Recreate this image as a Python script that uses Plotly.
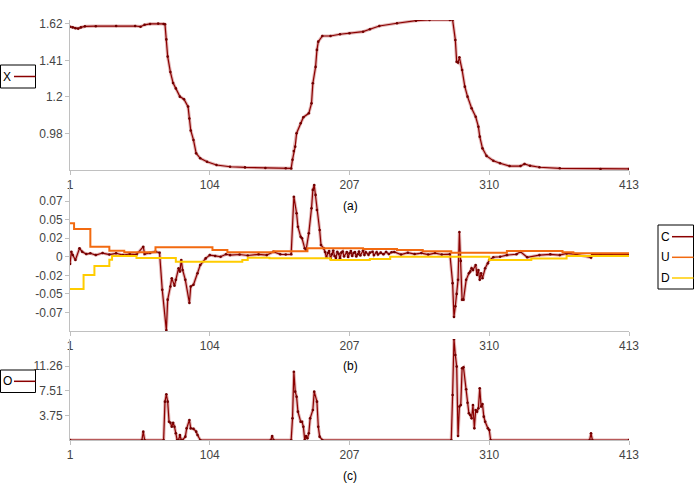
import plotly.graph_objects as go

# ---------------- data ----------------
x_ticks = [1, 104, 207, 310, 413]

X_idx = [1, 3, 5, 7, 9, 12, 20, 35, 49, 53, 56, 60, 66, 70, 71, 72, 73, 75, 77, 79, 82, 85, 88, 89, 90,
         92, 94, 97, 102, 109, 119, 130, 145, 160, 164, 165, 166, 167, 168, 171, 173, 177, 179, 180,
         182, 183, 184, 187, 193, 200, 207, 217, 222, 229, 242, 256, 266, 281, 283, 285, 286, 287, 288,
         290, 292, 294, 297, 300, 302, 303, 305, 308, 313, 318, 325, 333, 336, 340, 347, 362, 392, 413]
X_val = [1.604, 1.600, 1.595, 1.593, 1.600, 1.606, 1.607, 1.608, 1.608, 1.604, 1.615, 1.620, 1.622,
         1.620, 1.618, 1.53, 1.43, 1.34, 1.276, 1.245, 1.197, 1.182, 1.139, 1.07, 1.00,
         0.945, 0.867, 0.838, 0.818, 0.799, 0.789, 0.785, 0.782, 0.780, 0.779, 0.83, 0.88, 0.906,
         0.984, 1.042, 1.077, 1.10, 1.158, 1.275, 1.37, 1.469, 1.517, 1.55, 1.55, 1.56, 1.566, 1.575,
         1.589, 1.608, 1.624, 1.639, 1.643, 1.643, 1.643, 1.527, 1.40, 1.395, 1.426, 1.352, 1.255,
         1.197, 1.129, 1.08, 1.022, 0.964, 0.896, 0.852, 0.824, 0.809, 0.793, 0.793, 0.805, 0.795,
         0.786, 0.780, 0.776, 0.776]

C_idx = [1, 2, 3, 5, 8, 10, 13, 16, 20, 25, 30, 35, 40, 45, 50, 55, 56, 60, 64, 67, 69, 72, 73, 75,
         76, 78, 79, 81, 82, 83, 84, 86, 89, 90, 92, 95, 97, 101, 104, 108, 112, 116, 119, 126, 132,
         140, 146, 151, 156, 160, 164, 166, 168, 169, 171, 172, 174, 175, 177, 179, 180, 181, 182,
         183, 185, 186, 188, 189, 190, 191, 192, 193, 194, 195, 196, 197, 198, 199, 200, 201, 202,
         203, 205, 206, 207, 208, 209, 210, 211, 212, 213, 214, 215, 217, 218, 219, 221, 222, 224,
         225, 227, 228, 230, 232, 234, 236, 238, 240, 245, 250, 255, 260, 265, 270, 275, 281, 283,
         284, 285, 286, 287, 288, 289, 290, 291, 293, 295, 296, 297, 298, 300, 301, 302, 303, 304,
         305, 307, 309, 310, 313, 318, 323, 330, 333, 338, 347, 355, 362, 367, 374, 385, 386, 392,
         400, 413]
C_val = [-0.0088, 0.0061, 0.0021, -0.0039, 0.0102, 0.0061, 0.0033, 0.0042, 0.0021, 0.0045, 0.0027,
         0.0042, 0.0021, 0.0033, 0.0027, 0.0122, 0.0033, 0.0045, 0.0061, 0.0049, -0.040, -0.089,
         -0.052, -0.036, -0.026, -0.035, -0.028, -0.014, -0.018, -0.004, -0.016, -0.028, -0.056,
         -0.036, -0.034, -0.020, -0.010, -0.002, 0.002, 0.001, 0.0, 0.003, 0.002, 0.0027, 0.0015,
         0.003, 0.002, 0.006, 0.003, 0.0027, 0.003, 0.0728, 0.0527, 0.0364, 0.0243, 0.0224, 0.0102,
         0.0082, 0.0284, 0.0587, 0.081, 0.087, 0.075, 0.0567, 0.0324, 0.0142, 0.0102,
         0.0058, -0.0009, 0.0045, 0.007, -0.002, 0.003, 0.0076, 0.001, -0.0015, 0.006, 0.0035,
         -0.0019, 0.005, 0.0064, 0.0003, 0.0058, -0.0003, 0.0042, 0.007, 0.0009, 0.0045, 0.0058,
         0.0003, 0.003, 0.0064, 0.0015, 0.0076, 0.002, 0.0055, 0.0025, 0.005, 0.0061, 0.002,
         0.0055, 0.0027, 0.005, 0.003, 0.0058, 0.0033, 0.0055, 0.0058, 0.0027, 0.0049, 0.0033,
         0.0045, 0.0027, 0.0045, 0.0027, 0.0033, -0.032, -0.073, -0.060, -0.045, -0.028, 0.030,
         -0.005, -0.052, -0.052, -0.028, -0.020, -0.018, -0.014, -0.016, -0.010, -0.022, -0.016,
         -0.028, -0.020, -0.026, -0.014, -0.008, -0.004, -0.0006, 0.0, 0.002, 0.003, 0.006,
         -0.0006, 0.002, 0.003, 0.002, 0.004, 0.003, -0.001, 0.003, 0.003, 0.003, 0.003]

U_idx = [1, 4, 16, 30, 41, 64, 106, 117, 151, 176, 217, 242, 261, 282, 323, 364, 372, 413]
U_val = [0.0405, 0.0336, 0.0122, 0.0073, 0.0054, 0.0115, 0.0082, 0.0054, 0.0066, 0.0102, 0.0094,
         0.0082, 0.0066, 0.0050, 0.0070, 0.0054, 0.0042, 0.0042]

D_idx = [1, 11, 19, 30, 32, 50, 79, 128, 132, 148, 193, 222, 237, 310, 341, 367, 413]
D_val = [-0.039, -0.0221, -0.0112, -0.0035, 0.0009, -0.0015, -0.006, -0.0039, -0.0011, -0.0019,
         -0.0039, -0.0027, 0.0, -0.0039, -0.002, 0.0009, 0.0009]

O_idx = [1, 54, 55, 56, 70, 71, 72, 73, 74, 75, 76, 77, 78, 79, 80, 81, 82, 83, 84, 86, 87, 89, 90,
         92, 94, 95, 97, 149, 150, 151, 164, 165, 166, 167, 168, 169, 171, 172, 173, 174, 175, 176,
         177, 178, 180, 181, 183, 184, 185, 187, 282, 283, 284, 285, 286, 287, 288, 289, 290, 291,
         293, 294, 295, 296, 297, 298, 299, 300, 301, 302, 303, 304, 305, 306, 307, 309, 310, 311,
         384, 385, 386, 413]
O_val = [0, 0, 1.27, 0, 0, 5.85, 6.97, 5.85, 2.79, 2.64, 2.03, 2.64, 2.03, 1.02, 0, 0, 0.76, 0, 0,
         0.51, 1.78, 3.05, 1.78, 1.7, 1.27, 0.76, 0, 0, 0.6, 0, 0, 3.3, 10.4, 7.37, 6.6, 4.32, 2.79,
         2.79, 2.03, 0, 0.6, 0.25, 1.02, 3.3, 4.58, 7.37, 5.85, 2.03, 0.51, 0, 0, 6.87, 15.36,
         12.97, 11.19, 0.6, 5.09, 5.34, 10.94, 11.09, 7.73, 5.69, 4.07, 3.81, 3.3, 5.34, 1.78, 4.58,
         4.32, 4.83, 7.89, 5.09, 5.49, 3.56, 2.79, 1.78, 1.53, 0, 0, 1.02, 0, 0]

y1_tickvals = [0.9825, 1.195, 1.4075, 1.62]
y1_ticktext = ["0.98", "1.2", "1.41", "1.62"]
y2_tickvals = [-0.0675, -0.045, -0.0225, 0, 0.0225, 0.045, 0.0675]
y2_ticktext = ["-0.07", "-0.05", "-0.02", "0", "0.02", "0.05", "0.07"]
y3_tickvals = [3.753, 7.507, 11.26]
y3_ticktext = ["3.75", "7.51", "11.26"]

# ---------------- styles ----------------
W, H = 700, 500
RED = "#8b0000"
RED_HALO = "rgba(190,90,90,0.45)"
ORANGE = "#f26a10"
YELLOW = "#ffcc00"
AXIS = "#c0c0c0"
FONT = dict(family="Arial, Liberation Sans, sans-serif", size=12, color="#444444")


def px(x):
    return x / W


def py(y):
    return 1 - y / H


fig = go.Figure()


def halo_trace(x, y, xa, ya):
    return go.Scatter(x=x, y=y, xaxis=xa, yaxis=ya, mode="lines",
                      line=dict(color=RED_HALO, width=3.2),
                      showlegend=False, hoverinfo="skip")


def line_trace(x, y, color, xa, ya, shape="linear", width=1.5, markers=True):
    return go.Scatter(
        x=x, y=y, xaxis=xa, yaxis=ya, mode="lines+markers" if markers else "lines",
        line=dict(color=color, width=width, shape=shape),
        marker=dict(color="#700000", size=2.6),
        showlegend=False, hoverinfo="skip")


fig.add_trace(halo_trace(X_idx, X_val, "x", "y"))
fig.add_trace(line_trace(X_idx, X_val, RED, "x", "y", width=1.2))
fig.add_trace(halo_trace(C_idx, C_val, "x2", "y2"))
fig.add_trace(line_trace(C_idx, C_val, RED, "x2", "y2", width=1.2))
fig.add_trace(line_trace(U_idx, U_val, ORANGE, "x2", "y2", shape="hv", width=2, markers=False))
fig.add_trace(line_trace(D_idx, D_val, YELLOW, "x2", "y2", shape="hv", width=2, markers=False))
fig.add_trace(halo_trace(O_idx, O_val, "x3", "y3"))
fig.add_trace(line_trace(O_idx, O_val, RED, "x3", "y3", width=1.2))

xdom = [px(70), px(629)]
common_x = dict(range=[1, 413], tickvals=x_ticks, ticktext=[str(v) for v in x_ticks],
                showgrid=False, zeroline=False, showline=True, linecolor=AXIS, linewidth=1,
                ticks="outside", ticklen=4, tickcolor=AXIS, tickfont=FONT, domain=xdom,
                automargin=False)
common_y = dict(showgrid=False, zeroline=False, showline=True, linecolor=AXIS, linewidth=1,
                ticks="outside", ticklen=4, tickcolor=AXIS, tickfont=FONT, automargin=False)

fig.update_layout(
    width=W, height=H, autosize=False, margin=dict(l=0, r=0, t=0, b=0, autoexpand=False),
    paper_bgcolor="white", plot_bgcolor="white",
    xaxis=dict(common_x, anchor="y"),
    xaxis2=dict(common_x, anchor="y2"),
    xaxis3=dict(common_x, anchor="y3"),
    yaxis=dict(common_y, anchor="x", domain=[py(170), py(20)], range=[0.77, 1.643],
               tickvals=y1_tickvals, ticktext=y1_ticktext),
    yaxis2=dict(common_y, anchor="x2", domain=[py(331), py(182.5)], range=[-0.09, 0.09],
                tickvals=y2_tickvals, ticktext=y2_ticktext),
    yaxis3=dict(common_y, anchor="x3", domain=[py(440), py(339)], range=[0, 15.4],
                tickvals=y3_tickvals, ticktext=y3_ticktext),
)

ann_font = dict(family="Arial, Liberation Sans, sans-serif", size=12, color="#000000")
for label, y in [("(a)", 206), ("(b)", 366), ("(c)", 476)]:
    fig.add_annotation(x=px(350), y=py(y), xref="paper", yref="paper", text=label,
                       showarrow=False, font=ann_font, xanchor="center", yanchor="middle")


# legend boxes (drawn as boxes with text + colour sample)
def legend_box(x0, y0, x1, y1, entries):
    fig.add_shape(type="rect", xref="paper", yref="paper", x0=px(x0), x1=px(x1), y0=py(y1), y1=py(y0),
                  line=dict(color="black", width=1), fillcolor="white")
    for name, color, yy, tx, lx0, lx1 in entries:
        fig.add_annotation(x=px(tx), y=py(yy), xref="paper", yref="paper", text=name,
                           showarrow=False, font=ann_font, xanchor="left", yanchor="middle")
        fig.add_shape(type="line", xref="paper", yref="paper", x0=px(lx0), x1=px(lx1),
                      y0=py(yy), y1=py(yy), line=dict(color=color, width=1.5))


legend_box(0.5, 65, 35.5, 88, [("X", RED, 76.5, 1, 14, 35.5)])
legend_box(0.5, 370, 35.5, 392.5, [("O", RED, 381.3, 1, 14, 35.5)])
legend_box(658, 225, 693.5, 289, [("C", RED, 236.7, 658.5, 672, 693.5),
                                  ("U", ORANGE, 257.3, 658.5, 672, 693.5),
                                  ("D", YELLOW, 278, 658.5, 672, 693.5)])

fig.write_html("out.html", config={"displayModeBar": False, "responsive": False},
               post_script="document.body.style.margin='0px';document.body.style.overflow='hidden';")
